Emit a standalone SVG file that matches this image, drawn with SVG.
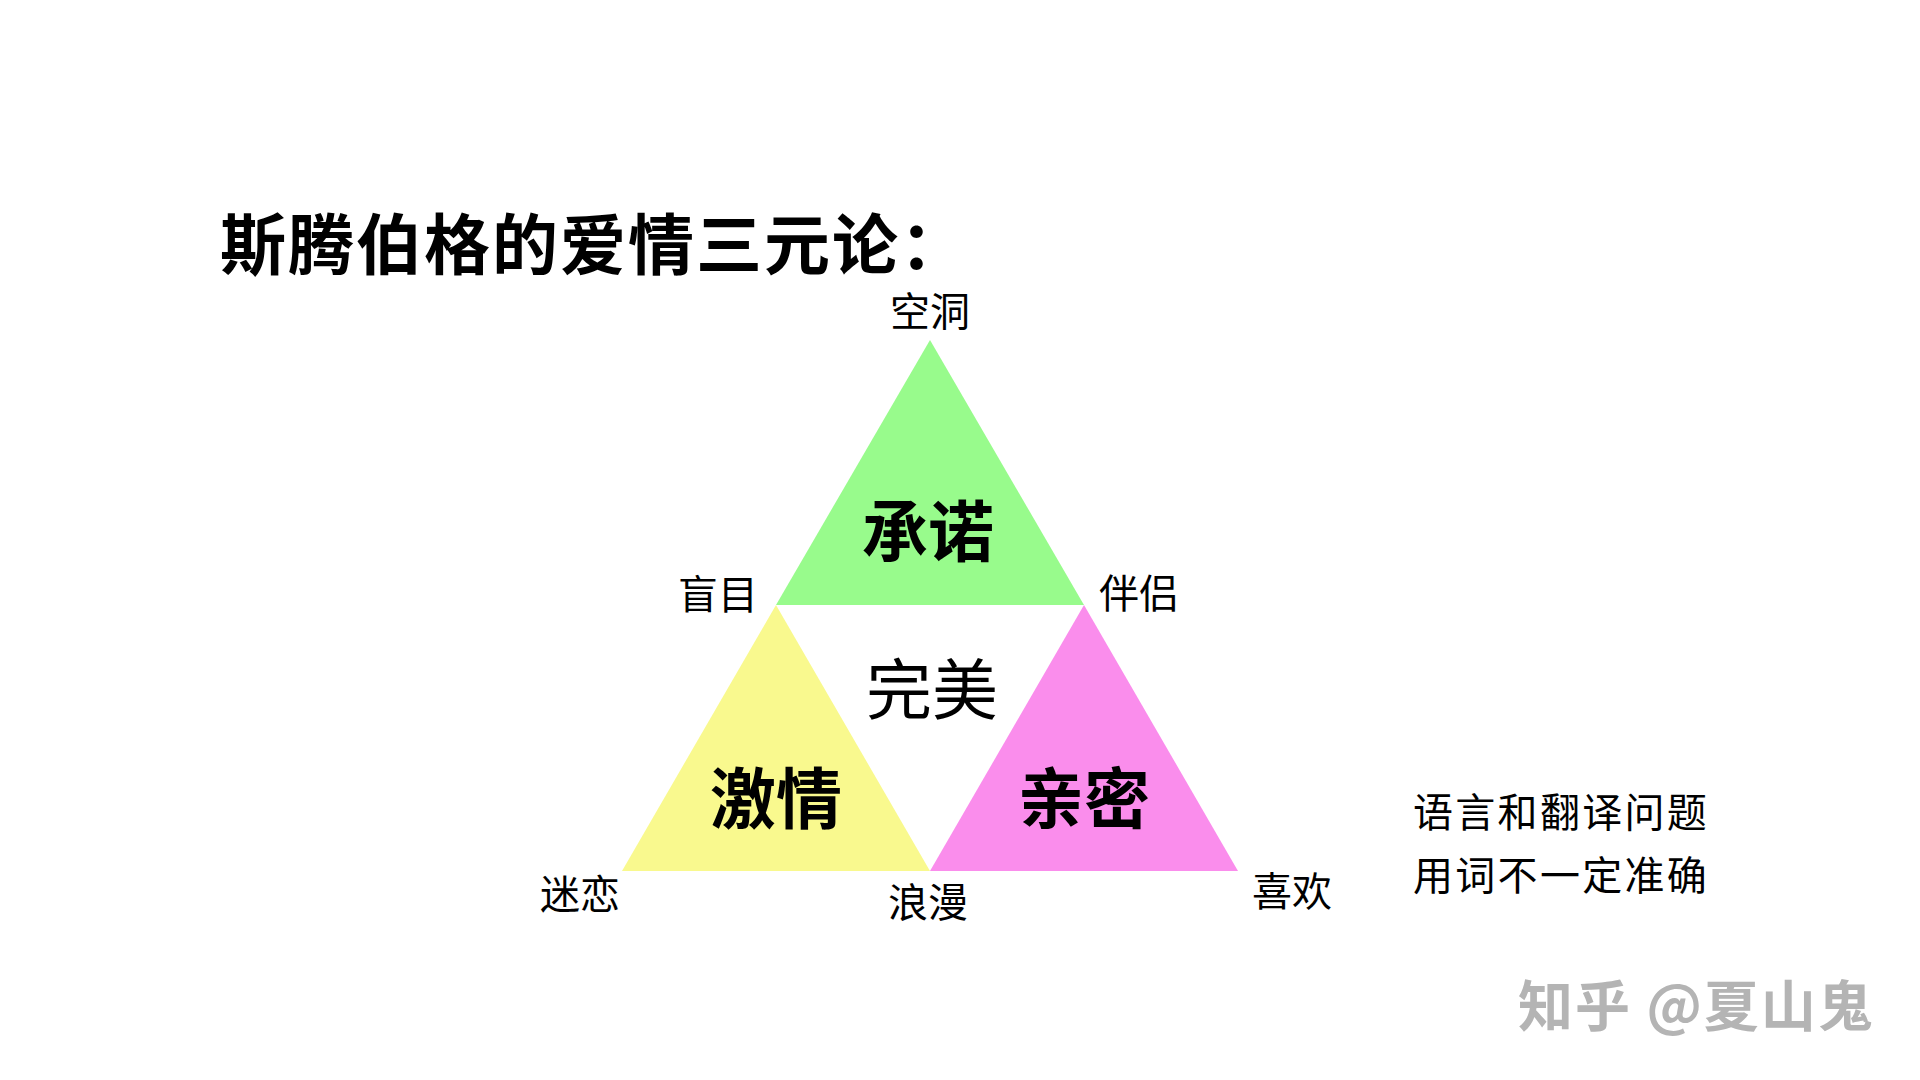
<svg xmlns="http://www.w3.org/2000/svg" width="1920" height="1080" viewBox="0 0 1920 1080">
<style>
text{font-family:"Noto Sans CJK SC","Noto Sans CJK JP",sans-serif;fill:#000;dominant-baseline:central}
.lbl{font-size:40px;text-anchor:middle}
.big{font-size:66px;font-weight:bold;text-anchor:middle}
.note{font-size:40px;letter-spacing:2.3px}
</style>
<rect width="1920" height="1080" fill="#fff"/>
<text id="title" x="220" y="240" style="font-size:66px;font-weight:bold;letter-spacing:2px">斯腾伯格的爱情三元论：</text>
<g id="commitment"><polygon points="930,340 776,605 1084,605" fill="#98fb8c"/><text class="big" x="928" y="527">承诺</text></g>
<g id="passion"><polygon points="776,605 622,871 930,871" fill="#f9f98e"/><text class="big" x="776" y="794">激情</text></g>
<g id="intimacy"><polygon points="1084,605 930,871 1238,871" fill="#fa8dec"/><text class="big" x="1084" y="794">亲密</text></g>
<g id="perfect"><text class="big" x="932" y="685" style="font-weight:normal">完美</text></g>
<g id="labels">
<text class="lbl" x="930" y="309">空洞</text>
<text class="lbl" x="718" y="592">盲目</text>
<text class="lbl" x="1139" y="591">伴侣</text>
<text class="lbl" x="580" y="892">迷恋</text>
<text class="lbl" x="928" y="900">浪漫</text>
<text class="lbl" x="1292" y="889">喜欢</text>
</g>
<g id="connectors"></g>
<text class="note" x="1413" y="810">语言和翻译问题</text>
<text class="note" x="1413" y="873">用词不一定准确</text>
<text x="1518" y="1002" style="font-size:55px;font-weight:bold;fill:#b4b4b4;letter-spacing:2px">知乎 @夏山鬼</text>
</svg>
